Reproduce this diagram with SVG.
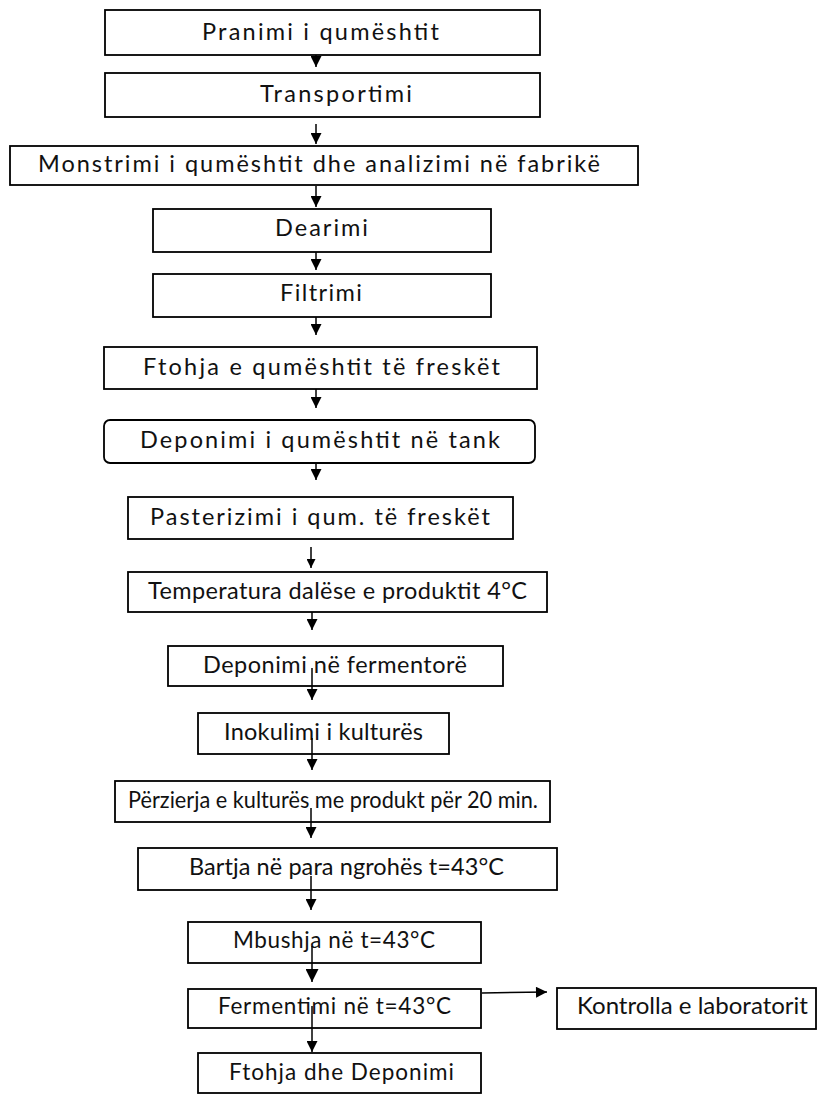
<svg xmlns="http://www.w3.org/2000/svg" width="817" height="1095" viewBox="0 0 817 1095">
<style>
.b{fill:#fff;stroke:#000;stroke-width:1.8}
.t{font-family:Lato,"Open Sans","Liberation Sans",sans-serif;font-size:23.5px;fill:#111;text-anchor:middle}
.s{font-size:22.5px}
.c{stroke:#000;stroke-width:1.5;fill:none}
</style>
<defs>
<marker id="a" viewBox="0 0 10 10" refX="10" refY="5" markerWidth="12" markerHeight="11" markerUnits="userSpaceOnUse" orient="auto"><path d="M0,0L10,5L0,10z" fill="#000"/></marker>
<marker id="as" viewBox="0 0 10 10" refX="10" refY="5" markerWidth="10" markerHeight="9" markerUnits="userSpaceOnUse" orient="auto"><path d="M0,0L10,5L0,10z" fill="#000"/></marker>
<marker id="ab" viewBox="0 0 10 10" refX="10" refY="5" markerWidth="17" markerHeight="13" markerUnits="userSpaceOnUse" orient="auto"><path d="M0,0L10,5L0,10z" fill="#000"/></marker>
</defs>
<rect width="817" height="1095" fill="#fff"/>
<g id="n1"><rect class="b" x="105" y="10" width="435" height="45"/><text class="t" x="320.5" y="40" textLength="237">Pranimi i qumështit</text></g>
<g id="n2"><rect class="b" x="105" y="73" width="435" height="44"/><text class="t" x="336" y="102" textLength="152">Transportimi</text></g>
<g id="n3"><rect class="b" x="10" y="146" width="628" height="39"/><text class="t" x="319" y="172" textLength="562">Monstrimi i qumështit dhe analizimi në fabrikë</text></g>
<g id="n4"><rect class="b" x="153" y="209" width="338" height="43"/><text class="t" x="321.5" y="236" textLength="93">Dearimi</text></g>
<g id="n5"><rect class="b" x="153" y="274" width="338" height="43"/><text class="t" x="321" y="301" textLength="82">Filtrimi</text></g>
<g id="n6"><rect class="b" x="104" y="347" width="433" height="42"/><text class="t" x="321.5" y="375" textLength="357">Ftohja e qumështit të freskët</text></g>
<g id="n7"><rect class="b" x="104" y="420" width="431" height="43" rx="6"/><text class="t" x="320" y="448" textLength="360">Deponimi i qumështit në tank</text></g>
<g id="n8"><rect class="b" x="128" y="497" width="385" height="42"/><text class="t" x="320" y="525" textLength="340">Pasterizimi i qum. të freskët</text></g>
<g id="n9"><rect class="b" x="128" y="572" width="419" height="40"/><text class="t" x="337.5" y="599" textLength="379">Temperatura dalëse e produktit 4°C</text></g>
<g id="n10"><rect class="b" x="168" y="646" width="335" height="40"/><text class="t" x="335" y="673" textLength="264">Deponimi në fermentorë</text></g>
<g id="n11"><rect class="b" x="198" y="713" width="251" height="41"/><text class="t" x="323.5" y="740" textLength="199">Inokulimi i kulturës</text></g>
<g id="n12"><rect class="b" x="115" y="781" width="435" height="41"/><text class="t" x="333" y="808" textLength="410" lengthAdjust="spacingAndGlyphs">Përzierja e kulturës me produkt për 20 min.</text></g>
<g id="n13"><rect class="b" x="138" y="848" width="419" height="42"/><text class="t" x="346.5" y="875" textLength="315">Bartja në para ngrohës t=43°C</text></g>
<g id="n14"><rect class="b" x="188" y="922" width="293" height="41"/><text class="t s" x="334" y="948" textLength="202">Mbushja në t=43°C</text></g>
<g id="n15"><rect class="b" x="188" y="989" width="293" height="39"/><text class="t s" x="334.5" y="1014" textLength="233">Fermentimi në t=43°C</text></g>
<g id="n16"><rect class="b" x="557" y="988" width="259" height="41"/><text class="t s" x="692.5" y="1014" textLength="231" lengthAdjust="spacingAndGlyphs">Kontrolla e laboratorit</text></g>
<g id="n17"><rect class="b" x="198" y="1053" width="283" height="40"/><text class="t s" x="341.5" y="1080" textLength="225">Ftohja dhe Deponimi</text></g>
<g id="connectors">
<line class="c" x1="316" y1="55" x2="316" y2="67" marker-end="url(#a)"/>
<line class="c" x1="316" y1="124" x2="316" y2="144" marker-end="url(#a)"/>
<line class="c" x1="316" y1="186" x2="316" y2="207" marker-end="url(#a)"/>
<line class="c" x1="316" y1="252" x2="316" y2="270" marker-end="url(#a)"/>
<line class="c" x1="316" y1="317" x2="316" y2="335" marker-end="url(#a)"/>
<line class="c" x1="316" y1="389" x2="316" y2="408" marker-end="url(#a)"/>
<line class="c" x1="316" y1="463" x2="316" y2="480" marker-end="url(#a)"/>
<line class="c" x1="311" y1="547" x2="311" y2="568" marker-end="url(#as)"/>
<line class="c" x1="312" y1="612" x2="312" y2="630" marker-end="url(#a)"/>
<line class="c" x1="312" y1="668" x2="312" y2="700" marker-end="url(#a)"/>
<line class="c" x1="312" y1="738" x2="312" y2="770" marker-end="url(#a)"/>
<line class="c" x1="311" y1="808" x2="311" y2="838" marker-end="url(#a)"/>
<line class="c" x1="311" y1="876" x2="311" y2="910" marker-end="url(#a)"/>
<line class="c" x1="312" y1="946" x2="312" y2="982" stroke-width="2" marker-end="url(#ab)"/>
<line class="c" x1="312" y1="1006" x2="312" y2="1052" marker-end="url(#a)"/>
<line class="c" x1="482" y1="993" x2="547" y2="992" marker-end="url(#a)"/>
</g>
</svg>
